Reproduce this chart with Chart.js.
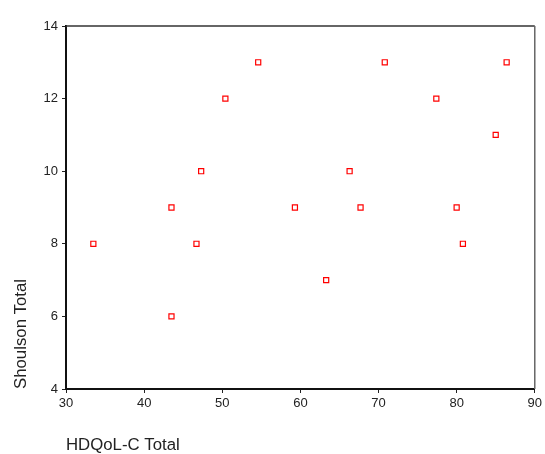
<!DOCTYPE html>
<html>
<head>
<meta charset="utf-8">
<script src="https://cdn.jsdelivr.net/npm/chart.js@4/dist/chart.umd.min.js"></script>
<style>
  html, body { margin: 0; padding: 0; background: #fff; }
  #wrap { width: 545px; height: 454px; }
</style>
</head>
<body>
<div id="wrap"><canvas id="chart"></canvas></div>
<script>
// data
const hdqolTotal = [33.5, 43.5, 46.7, 43.5, 47.3, 50.4, 54.6, 70.8, 86.4, 77.4, 85.0, 66.3, 59.3, 67.7, 80.0, 63.3, 80.8];
const shoulsonTotal = [8, 6, 8, 9, 10, 12, 13, 13, 13, 12, 11, 10, 9, 9, 9, 7, 8];
const xTicks = [30, 40, 50, 60, 70, 80, 90];
const yTicks = [4, 6, 8, 10, 12, 14];

const points = hdqolTotal.map((x, i) => ({ x: x, y: shoulsonTotal[i] }));

// top and right edges of the plot box
const frame = {
    id: 'frame',
    afterDraw(chart) {
        const a = chart.chartArea;
        const ctx = chart.ctx;
        ctx.save();
        ctx.lineWidth = 1.5;
        ctx.strokeStyle = '#333';
        ctx.beginPath();
        ctx.moveTo(a.left, a.top);
        ctx.lineTo(a.right, a.top);
        ctx.stroke();
        ctx.strokeStyle = '#666';
        ctx.beginPath();
        ctx.moveTo(a.right, a.top);
        ctx.lineTo(a.right, a.bottom);
        ctx.stroke();
        ctx.restore();
    }
};

const tickFont = { family: 'Arial, "Liberation Sans", sans-serif', size: 13 };
const titleFont = { family: 'Arial, "Liberation Sans", sans-serif', size: 16.8, lineHeight: 1 };

new Chart(document.getElementById('chart'), {
    type: 'scatter',
    data: {
        datasets: [{
            data: points,
            pointStyle: 'rect',
            pointRadius: 3.6,
            pointHoverRadius: 3.6,
            pointBorderWidth: 1.2,
            pointBorderColor: '#ff0000',
            pointBackgroundColor: '#ffffff'
        }]
    },
    options: {
        responsive: true,
        maintainAspectRatio: false,
        animation: false,
        layout: { padding: { top: 26, right: 10, left: 0, bottom: 0 } },
        plugins: { legend: { display: false }, tooltip: { enabled: false } },
        scales: {
            x: {
                type: 'linear',
                min: 30,
                max: 90,
                afterBuildTicks: s => { s.ticks = xTicks.map(v => ({ value: v })); },
                afterFit: s => { s.height = 65; },
                grid: { drawOnChartArea: false, tickLength: 4, color: '#222', tickColor: '#222' },
                border: { color: '#111', width: 2 },
                ticks: { font: tickFont, color: '#222', padding: 3, maxRotation: 0 },
                title: {
                    display: true,
                    text: 'HDQoL-C Total',
                    align: 'start',
                    font: titleFont,
                    color: '#222',
                    padding: { top: 0, bottom: 0 }
                }
            },
            y: {
                type: 'linear',
                min: 4,
                max: 14,
                afterBuildTicks: s => { s.ticks = yTicks.map(v => ({ value: v })); },
                afterFit: s => { s.width = 66; },
                grid: { drawOnChartArea: false, tickLength: 4, color: '#222', tickColor: '#222' },
                border: { color: '#111', width: 2 },
                ticks: { font: tickFont, color: '#222', padding: 4 },
                title: {
                    display: true,
                    text: 'Shoulson Total',
                    align: 'start',
                    font: titleFont,
                    color: '#222',
                    padding: { top: 13, bottom: 0 }
                }
            }
        }
    },
    plugins: [frame]
});
</script>
</body>
</html>
